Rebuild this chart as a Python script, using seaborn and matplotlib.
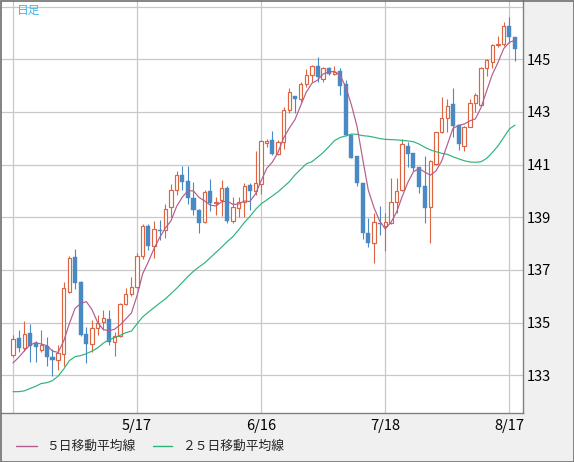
import numpy as np
import pandas as pd
import seaborn as sns
import matplotlib.pyplot as plt
from matplotlib.lines import Line2D
from matplotlib.patches import Rectangle

# daily candles (USD/JPY style)
opens = [133.78, 134.43, 134.03, 134.62, 134.22, 133.97, 134.12, 133.71, 133.59, 133.82,
         136.17, 137.48, 136.55, 134.58, 134.20, 134.81, 135.03, 135.15, 134.26, 134.48,
         135.69, 136.08, 136.36, 137.53, 138.66, 137.90, 138.53, 138.51, 139.39, 140.03,
         140.62, 140.37, 139.75, 139.29, 138.82, 140.00, 139.53, 139.66, 140.10, 138.87,
         139.34, 139.57, 140.23, 140.01, 140.25, 141.81, 141.94, 141.39, 141.85, 143.06,
         143.61, 143.48, 144.05, 144.41, 144.75, 144.24, 144.66, 144.44, 144.56, 144.06,
         142.13, 141.33, 140.32, 138.42, 138.04, 138.78, 138.67, 138.77, 139.59, 140.04,
         141.71, 141.43, 140.90, 140.19, 139.38, 141.01, 142.23, 142.76, 143.29, 142.50,
         141.71, 142.44, 143.33, 143.27, 144.66, 144.91, 145.54, 145.57, 146.27, 145.84]
highs = [134.52, 134.71, 135.05, 134.96, 134.32, 134.71, 134.44, 134.00, 134.17, 136.55,
         137.53, 137.79, 136.58, 134.83, 135.11, 135.28, 135.47, 135.47, 134.64, 135.75,
         136.30, 136.72, 137.65, 138.73, 138.73, 138.86, 138.89, 139.52, 140.28, 140.75,
         140.94, 140.94, 140.34, 139.33, 140.03, 140.46, 139.78, 140.42, 140.19, 139.78,
         139.78, 140.29, 140.29, 141.52, 141.94, 141.96, 142.28, 141.94, 143.20, 143.90,
         143.61, 144.15, 144.63, 144.78, 145.10, 144.72, 144.70, 144.75, 144.66, 144.22,
         142.18, 141.33, 140.32, 138.96, 139.15, 139.44, 139.15, 140.50, 140.50, 141.96,
         141.84, 141.46, 140.92, 141.33, 141.18, 142.22, 143.56, 143.48, 143.90, 142.50,
         142.47, 143.48, 143.73, 144.72, 145.00, 145.57, 145.89, 146.43, 146.59, 145.84]
lows = [133.69, 133.88, 133.92, 133.50, 133.50, 133.88, 133.34, 132.99, 133.20, 133.37,
        136.13, 136.27, 134.49, 133.46, 133.88, 134.52, 134.71, 134.17, 133.73, 134.45,
        135.66, 136.00, 136.30, 137.40, 137.75, 137.47, 138.13, 138.22, 139.01, 139.84,
        140.03, 139.52, 139.08, 138.41, 138.78, 139.25, 139.09, 139.06, 138.80, 138.77,
        139.03, 139.03, 139.28, 139.85, 139.87, 141.68, 141.37, 141.37, 141.60, 142.95,
        142.95, 143.39, 143.96, 144.15, 144.15, 144.15, 144.40, 144.40, 143.65, 142.10,
        141.25, 140.19, 138.16, 137.89, 137.25, 138.33, 137.73, 138.73, 139.15, 139.99,
        140.90, 140.77, 139.94, 138.77, 138.04, 141.00, 142.19, 142.22, 142.06, 141.56,
        141.53, 142.42, 143.01, 143.23, 144.37, 144.66, 145.48, 145.51, 145.61, 144.95]
closes = [134.39, 134.03, 134.58, 134.13, 134.07, 134.16, 133.69, 133.57, 133.85, 136.30,
          137.45, 136.52, 134.52, 134.20, 134.81, 134.99, 135.19, 134.26, 134.48, 135.69,
          136.08, 136.36, 137.53, 138.66, 137.91, 138.57, 138.48, 139.33, 140.03, 140.62,
          140.34, 139.75, 139.27, 138.78, 139.96, 139.53, 139.59, 140.10, 138.87, 139.38,
          139.57, 140.19, 140.01, 140.29, 141.90, 141.91, 141.39, 141.85, 143.06, 143.75,
          143.48, 144.05, 144.41, 144.75, 144.34, 144.66, 144.43, 144.53, 144.00, 142.13,
          141.27, 140.32, 138.39, 138.04, 138.81, 138.74, 138.81, 139.59, 140.01, 141.77,
          141.41, 140.89, 140.16, 139.37, 141.15, 142.22, 142.76, 143.24, 142.48, 141.77,
          142.44, 143.35, 143.65, 144.66, 144.97, 145.54, 145.58, 146.27, 145.84, 145.38]

ma5 = [133.47, 133.68, 133.93, 134.15, 134.24, 134.19, 134.13, 133.92, 133.87, 134.31,
       134.97, 135.54, 135.73, 135.80, 135.50, 135.01, 134.74, 134.69, 134.75, 134.92,
       135.14, 135.37, 136.03, 136.86, 137.31, 137.81, 138.23, 138.59, 138.86, 139.41,
       139.76, 140.01, 140.00, 139.75, 139.62, 139.46, 139.43, 139.59, 139.61, 139.49,
       139.50, 139.62, 139.60, 139.89, 140.39, 140.86, 141.10, 141.47, 142.02, 142.39,
       142.71, 143.24, 143.75, 144.09, 144.21, 144.44, 144.52, 144.54, 144.39, 143.95,
       143.27, 142.45, 141.22, 140.03, 139.37, 138.86, 138.56, 138.80, 139.19, 139.78,
       140.32, 140.73, 140.85, 140.72, 140.60, 140.76, 141.13, 141.75, 142.37, 142.49,
       142.54, 142.66, 142.74, 143.17, 143.81, 144.43, 144.88, 145.40, 145.64, 145.72]
ma25 = [132.38, 132.38, 132.41, 132.50, 132.58, 132.69, 132.72, 132.80, 132.97, 133.24,
        133.56, 133.71, 133.75, 133.82, 133.92, 134.04, 134.22, 134.35, 134.43, 134.52,
        134.62, 134.68, 134.96, 135.22, 135.40, 135.57, 135.74, 135.90, 136.10, 136.30,
        136.52, 136.75, 136.95, 137.12, 137.27, 137.47, 137.67, 137.87, 138.08, 138.27,
        138.52, 138.80, 139.03, 139.30, 139.51, 139.66, 139.81, 139.97, 140.16, 140.35,
        140.61, 140.82, 141.03, 141.11, 141.28, 141.46, 141.68, 141.91, 142.03, 142.09,
        142.16, 142.15, 142.10, 142.08, 142.04, 141.99, 141.96, 141.95, 141.94, 141.92,
        141.90, 141.87, 141.78, 141.66, 141.56, 141.49, 141.43, 141.39, 141.30, 141.22,
        141.15, 141.10, 141.09, 141.11, 141.24, 141.46, 141.71, 142.03, 142.35, 142.50]

label_dates = ['2023-05-17', '2023-06-16', '2023-07-18', '2023-08-17']
price_ticks = [133, 135, 137, 139, 141, 143, 145, 147]

dates = pd.bdate_range('2023-04-17', '2023-08-18')
df = pd.DataFrame({'date': dates, 'open': opens, 'high': highs, 'low': lows,
                   'close': closes, 'ma5': ma5, 'ma25': ma25})
df['x'] = np.arange(len(df))

UP = '#dc6440'
DOWN = '#4a8ac4'
C_MA5 = '#b55c8f'
C_MA25 = '#2eb47a'

sns.set_style('white')
plt.rcParams['font.family'] = ['Noto Sans CJK JP', 'DejaVu Sans']

fig = plt.figure(figsize=(5.74, 4.62), dpi=100, facecolor='#f0f0f0')
ax = fig.add_axes([1 / 574, 49 / 462, 522 / 574, 413 / 462])
ax.set_facecolor('white')

# grid
for p in price_ticks:
    ax.axhline(p, color='#c8c8c8', lw=0.9, zorder=0)
tick_x = [int(df.index[df['date'] == pd.Timestamp(d)][0]) for d in label_dates]
for t in [0] + tick_x:
    ax.axvline(t, color='#c8c8c8', lw=0.9, zorder=0)

# candles
up = df[df['close'] >= df['open']]
dn = df[df['close'] < df['open']]
ax.vlines(up['x'], up['low'], up['high'], color=UP, lw=0.8, zorder=2)
ax.vlines(dn['x'], dn['low'], dn['high'], color=DOWN, lw=0.8, zorder=2)
ax.bar(up['x'], (up['close'] - up['open']).clip(lower=0.03), bottom=up['open'],
       width=0.6, facecolor='white', edgecolor=UP, lw=0.85, zorder=3)
ax.bar(dn['x'], (dn['open'] - dn['close']).clip(lower=0.03), bottom=dn['close'],
       width=0.72, facecolor=DOWN, edgecolor=DOWN, lw=0.3, zorder=3)

# moving averages
sns.lineplot(data=df, x='x', y='ma25', color=C_MA25, lw=0.85, ax=ax, zorder=4, legend=False)
sns.lineplot(data=df, x='x', y='ma5', color=C_MA5, lw=0.85, ax=ax, zorder=5, legend=False)

ax.set_xlim(-2.13, 90.43)
ax.set_ylim(131.57, 147.25)
ax.set_xlabel('')
ax.set_ylabel('')

ax.yaxis.tick_right()
ax.set_yticks(price_ticks)
ax.set_yticklabels([str(p) if p < 147 else '' for p in price_ticks])
ax.set_xticks(tick_x)
ax.set_xticklabels([pd.Timestamp(d).strftime('%-m/%d').replace('/0', '/') for d in label_dates])
ax.tick_params(axis='y', length=0, pad=3, labelsize=10.5, colors='black')
ax.tick_params(axis='x', length=0, pad=4, labelsize=10.5, colors='black')

for s in ['left', 'top']:
    ax.spines[s].set_visible(False)
for s in ['right', 'bottom']:
    ax.spines[s].set_color('#808080')
    ax.spines[s].set_linewidth(1.0)

ax.text(16 / 522, 1 - 10 / 413, '日足', transform=ax.transAxes, color='#45b4e6',
        fontsize=8.5, va='center', ha='left')

# legend
ly = 1 - 446 / 462
fig.add_artist(Line2D([16 / 574, 37 / 574], [ly, ly], color=C_MA5, lw=1.0))
fig.text(46 / 574, ly, '５日移動平均線', fontsize=9.2, va='center', ha='left')
fig.add_artist(Line2D([153 / 574, 172 / 574], [ly, ly], color=C_MA25, lw=1.0))
fig.text(182 / 574, ly, '２５日移動平均線', fontsize=9.2, va='center', ha='left')

# outer frame
fig.add_artist(Rectangle((0.5 / 574, 0.5 / 462), 573 / 574, 461 / 462, transform=fig.transFigure,
                         fill=False, edgecolor='#707070', lw=1.2))

fig.savefig('out.png', dpi=100, facecolor=fig.get_facecolor())
